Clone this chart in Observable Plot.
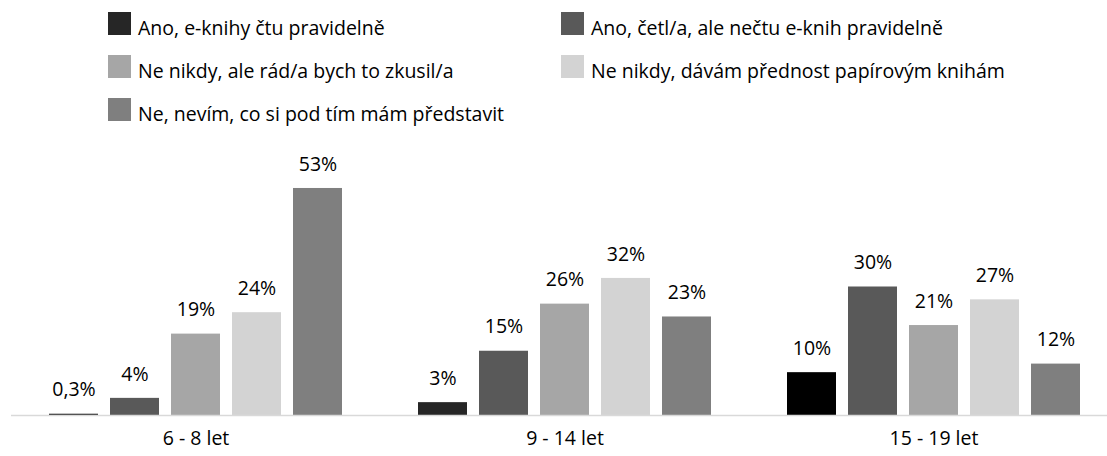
<!DOCTYPE html>
<html><head><meta charset="utf-8">
<script src="https://cdn.jsdelivr.net/npm/d3@7"></script>
<script src="https://cdn.jsdelivr.net/npm/@observablehq/plot@0.6"></script>
<style>
body{margin:0;background:#fff;font-family:"Open Sans",sans-serif;}
#wrap{position:relative;width:1107px;height:456px;overflow:hidden;}
#legend{position:absolute;left:0;top:0;width:1107px;height:140px;}
.item{position:absolute;font-size:19.5px;line-height:24px;color:#000;white-space:nowrap;font-weight:400;}
.sw{display:inline-block;width:23px;height:23px;margin-right:7px;vertical-align:baseline;}
#chart{position:absolute;left:0;top:140px;}
</style></head>
<body><div id="wrap"><div id="legend"></div><div id="chart"></div></div>
<script>
const groups = ["6 - 8 let", "9 - 14 let", "15 - 19 let"];
const series = [
  "Ano, e-knihy čtu pravidelně",
  "Ano, četl/a, ale nečtu e-knih pravidelně",
  "Ne nikdy, ale rád/a bych to zkusil/a",
  "Ne nikdy, dávám přednost papírovým knihám",
  "Ne, nevím, co si pod tím mám představit"
];
const values68 = [0.3, 4, 19, 24, 53];
const values914 = [3, 15, 26, 32, 23];
const values1519 = [10, 30, 21, 27, 12];
const labels68 = ["0,3%", "4%", "19%", "24%", "53%"];
const labels914 = ["3%", "15%", "26%", "32%", "23%"];
const labels1519 = ["10%", "30%", "21%", "27%", "12%"];

const colors = ["#262626", "#595959", "#a6a6a6", "#d3d3d3", "#7f7f7f"];

const valueSets = [values68, values914, values1519];
const labelSets = [labels68, labels914, labels1519];
const data = [];
groups.forEach((g, gi) => series.forEach((s, si) => data.push({group: g, series: s, value: valueSets[gi][si], label: labelSets[gi][si]})));

// legend
const legendPos = [[108, 12], [561, 12], [108, 55], [561, 55], [108, 98]];
const leg = document.getElementById("legend");
series.forEach((s, i) => {
  const d = document.createElement("div");
  d.className = "item";
  d.style.left = legendPos[i][0] + "px";
  d.style.top = (legendPos[i][1]) + "px";
  d.innerHTML = `<span class="sw" style="background:${colors[i]}"></span><span>${s}</span>`;
  leg.appendChild(d);
});

const fillOf = d => (d.group === groups[2] && d.series === series[0]) ? "#000000" : colors[series.indexOf(d.series)];

const chart = Plot.plot({
  width: 1107,
  height: 316,
  marginTop: 0,
  marginBottom: 41,
  marginLeft: 10,
  marginRight: -11,
  style: {fontFamily: "'Open Sans', sans-serif", background: "#fff"},
  fx: {domain: groups, padding: 0, label: null},
  x: {domain: series, paddingInner: 0.195, paddingOuter: 0.6, axis: null},
  y: {domain: [0, 64.2], axis: null},
  marks: [
    Plot.barY(data, {fx: "group", x: "series", y: "value", fill: fillOf}),
    Plot.ruleY([0], {stroke: "#d9d9d9", strokeWidth: 1.5}),
    Plot.text(data, {fx: "group", x: "series", y: "value", text: "label", dy: -24, fontSize: 19.5, fill: "#000"}),
    Plot.axisFx({anchor: "bottom", tickSize: 0, tickPadding: 16, fontSize: 19.5, label: null, color: "#000"})
  ]
});
document.getElementById("chart").appendChild(chart);
</script></body></html>
